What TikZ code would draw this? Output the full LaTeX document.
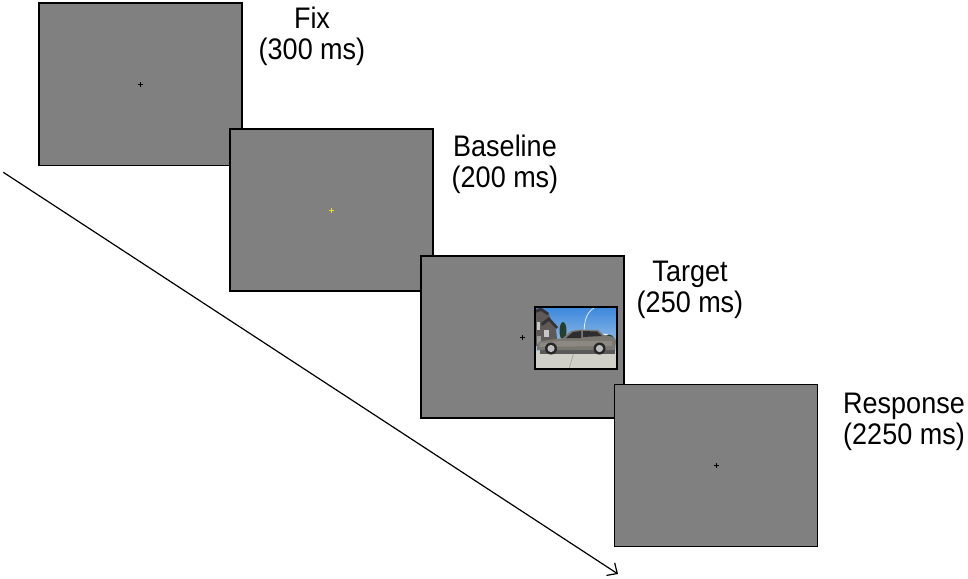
\documentclass[tikz,border=0pt]{standalone}
\usepackage{fontspec}
\setmainfont{Liberation Sans}
\usetikzlibrary{arrows.meta}
\definecolor{screengray}{RGB}{128,128,128}
\definecolor{fixyellow}{RGB}{225,225,30}
\definecolor{skytop}{RGB}{60,135,220}
\definecolor{skybot}{RGB}{165,200,235}
\definecolor{ground}{RGB}{208,208,200}
\definecolor{house}{RGB}{95,90,88}
\definecolor{roof}{RGB}{55,50,52}
\definecolor{tree}{RGB}{40,62,42}
\definecolor{carbody}{RGB}{122,118,112}
\definecolor{carlow}{RGB}{140,136,130}
\definecolor{carwin}{RGB}{45,45,48}
\definecolor{rim}{RGB}{190,190,190}
\tikzset{
  screen/.style={draw=black, line width=1.4pt, fill=screengray, minimum width=203pt, minimum height=162pt, inner sep=0pt, outer sep=0pt},
  steplabel/.style={align=center, inner sep=0pt, transform shape, font=\fontsize{27}{28.5}\selectfont},
  fixcross/.style={line width=0.6pt},
  timeline/.style={line width=1.2pt, -{Straight Barb[length=8pt,width=15pt,line width=1.2pt]}},
  photo/.style={draw=black, line width=1.8pt, minimum width=82pt, minimum height=62pt, inner sep=0pt}
}
\begin{document}
\begin{tikzpicture}[x=1pt,y=-1pt]
\useasboundingbox[fill=white] (0,0) rectangle (968,578);
% timeline arrow
\coordinate (tstart) at (3.3,172.3);
\coordinate (tend) at (618,574);
\draw[timeline] (tstart) -- (tend);
% screens
\node[screen] (s1) at (140.3,84.2) {};
\draw[fixcross] ([xshift=-2.5pt]s1.center) -- ([xshift=2.5pt]s1.center);
\draw[fixcross] ([yshift=-2.5pt]s1.center) -- ([yshift=2.5pt]s1.center);
\node[screen] (s2) at (331.5,210) {};
\draw[fixcross,fixyellow,line width=0.9pt] ([xshift=-2.5pt]s2.center) -- ([xshift=2.5pt]s2.center);
\draw[fixcross,fixyellow,line width=0.9pt] ([yshift=-2.5pt]s2.center) -- ([yshift=2.5pt]s2.center);
\node[screen] (s3) at (522.5,337) {};
\draw[fixcross] ([xshift=-2.5pt]s3.center) -- ([xshift=2.5pt]s3.center);
\draw[fixcross] ([yshift=-2.5pt]s3.center) -- ([yshift=2.5pt]s3.center);
% photo
\node[photo] (ph) at (576,338) {};
\begin{scope}
\clip (535,307) rectangle (617,369);
\shade[top color=skytop, bottom color=skybot] (535,307) rectangle (617,352);
\fill[white!80!skybot] (600,336) ellipse (10pt and 2.5pt);
\draw[white!85!skybot, line width=0.7pt] (584,334) .. controls (584,320) and (587,312) .. (594,308);
\fill[ground] (535,351) rectangle (617,369);
\draw[gray!75, line width=0.6pt] (569,369) -- (574,352);
\fill[tree] (563,331) ellipse (3.5pt and 9pt);
\fill[tree] (609,339) ellipse (5pt and 4.5pt);
\fill[tree] (598,341) ellipse (4pt and 3pt);
% house
\fill[house] (535,312) -- (541,309) -- (549,314) -- (551,322) -- (556,330) -- (558,346) -- (535,346) -- cycle;
\fill[roof] (535,310) -- (541,307.5) -- (549,313) -- (547,315) -- (541,311) -- (535,313) -- cycle;
\fill[roof] (541,323) -- (549,317) -- (558,327) -- (556,329) -- (549,321) -- (542,326) -- cycle;
\fill[gray!45] (537,322) rectangle (540,330);
\fill[gray!45] (544,330) rectangle (549,337);
\fill[black!40] (537,336) rectangle (541,344);
% car shadow
\fill[black!65] (540,349) rectangle (615,354);
% car body
\fill[carbody] (537,350) -- (537,344) -- (541,341) -- (556,339) -- (563,338) -- (571,331) -- (580,329.5) -- (598,330) -- (604,335) -- (614,337) -- (616,341) -- (615,350) -- cycle;
\fill[carlow] (539,347) -- (540,343) -- (560,341) -- (612,341) -- (612,346) -- cycle;
\fill[carwin] (566,338) -- (573,332) -- (581,331) -- (581,338) -- cycle;
\fill[carwin] (583,331) -- (597,331.5) -- (602,336) -- (583,337) -- cycle;
% wheels
\fill[black!85] (551,348.5) circle (6pt);
\fill[rim] (551,348.5) circle (3.6pt);
\fill[black!85] (599.5,348.5) circle (6pt);
\fill[rim] (599.5,348.5) circle (3.6pt);
\end{scope}
\node[photo] at (ph.center) {};
% response screen
\node[screen] (s4) at (716,465.3) {};
\draw[fixcross] ([xshift=-2.5pt]s4.center) -- ([xshift=2.5pt]s4.center);
\draw[fixcross] ([yshift=-2.5pt]s4.center) -- ([yshift=2.5pt]s4.center);
% labels
\begin{scope}[shift={(312,36)}, yscale=1.1]
\node[steplabel] (l1) at (0,0) {Fix\\(300 ms)};
\end{scope}
\begin{scope}[shift={(505,164)}, yscale=1.1]
\node[steplabel] (l2) at (0,0) {Baseline\\(200 ms)};
\end{scope}
\begin{scope}[shift={(690,290)}, yscale=1.1]
\node[steplabel] (l3) at (0,0) {Target\\(250 ms)};
\end{scope}
\begin{scope}[shift={(904,422)}, yscale=1.1]
\node[steplabel] (l4) at (0,0) {Response\\(2250 ms)};
\end{scope}
\end{tikzpicture}
\end{document}
